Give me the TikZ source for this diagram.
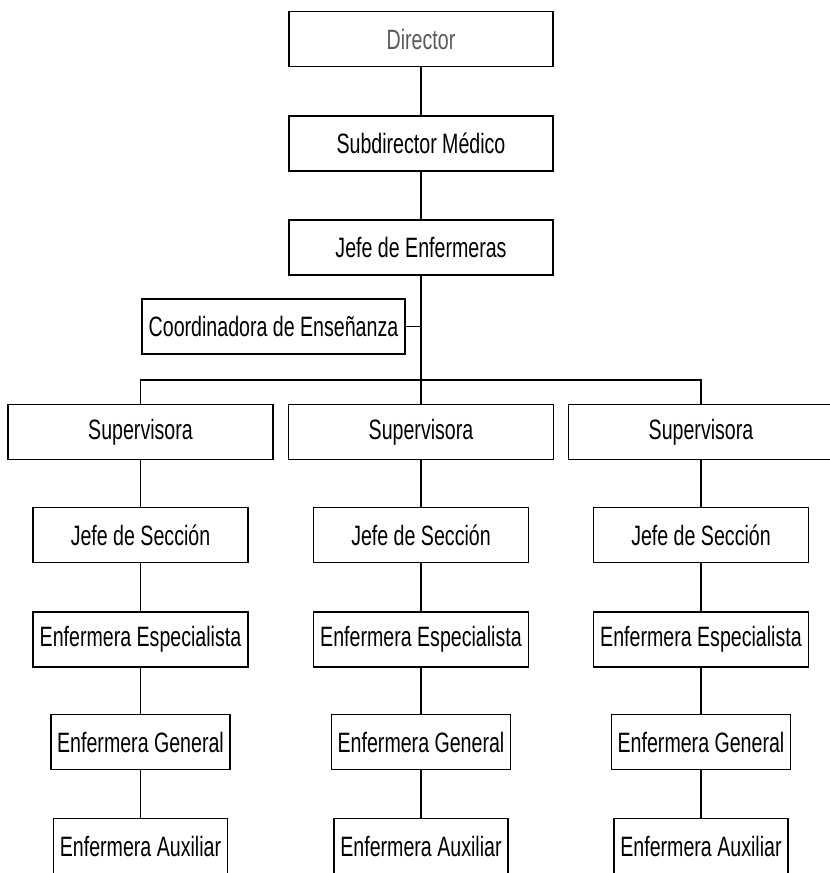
\documentclass[tikz,border=0pt]{standalone}
\usepackage{fontspec}
\setmainfont{Liberation Sans}[FakeStretch=0.7]
\usepackage{tikz}
\usetikzlibrary{positioning}

\begin{document}
\begin{tikzpicture}
        [x=1pt, y=-1pt, line width=1.3pt,
         puesto/.style={draw, inner sep=0pt, minimum height=55pt, font=\fontsize{28}{30}\selectfont},
         linea/.style={draw, line width=1.3pt}]
        \useasboundingbox (0,0) rectangle (830,873);

        \node[puesto, minimum width=264pt, text=black!65] (dir) at (421,39) {Director};
        \node[puesto, minimum width=264pt] (sub) at (421,143.5) {Subdirector Médico};
        \node[puesto, minimum width=264pt] (jefe) at (421,247.5) {Jefe de Enfermeras};
        \node[puesto, minimum width=263pt] (coord) at (273.5,326.5) {Coordinadora de Enseñanza};
        \coordinate (bar) at (421,380);

        \foreach \c/\x in {1/140.5, 2/421, 3/701} {
            \node[puesto, minimum width=265pt] (sup\c) at (\x,432) {Supervisora};
            \node[puesto, minimum width=215pt] (sec\c) at (\x,535) {Jefe de Sección};
            \node[puesto, minimum width=215pt] (esp\c) at (\x,639.5) {Enfermera Especialista};
            \node[puesto, minimum width=179pt] (gen\c) at (\x,742) {Enfermera General};
            \node[puesto, minimum width=174pt] (aux\c) at (\x,846) {Enfermera Auxiliar};
            \path[linea] (sup\c) -- (sec\c) -- (esp\c) -- (gen\c) -- (aux\c);
        }

        \path[linea] (dir) -- (sub) -- (jefe) -- (sup2);
        \path[linea] (coord.east) -- (coord.east -| jefe.south);
        \path[linea] (bar) -| (sup1.north);
        \path[linea] (bar) -| (sup3.north);
    \end{tikzpicture}
\end{document}
